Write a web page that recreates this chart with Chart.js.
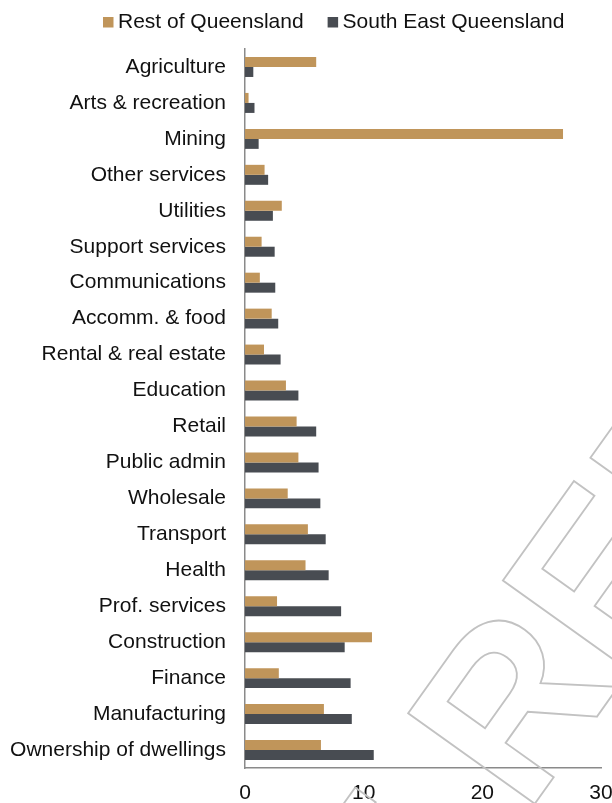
<!DOCTYPE html>
<html>
<head>
<meta charset="utf-8">
<script src="https://cdn.jsdelivr.net/npm/chart.js@4"></script>
<style>
  html, body { margin: 0; padding: 0; background: #fff; }
  #industryChart { display: block; }
</style>
</head>
<body>
<canvas id="industryChart" width="612" height="803"></canvas>
<script>
const industries = [
    "Agriculture", "Arts & recreation", "Mining", "Other services", "Utilities",
    "Support services", "Communications", "Accomm. & food", "Rental & real estate", "Education",
    "Retail", "Public admin", "Wholesale", "Transport", "Health",
    "Prof. services", "Construction", "Finance", "Manufacturing", "Ownership of dwellings",
];
const restOfQld = [6.0, 0.3, 26.8, 1.65, 3.1, 1.4, 1.25, 2.25, 1.6, 3.45, 4.35, 4.5, 3.6, 5.3, 5.1, 2.7, 10.7, 2.85, 6.65, 6.4];
const southEastQld = [0.7, 0.8, 1.15, 1.95, 2.35, 2.5, 2.55, 2.8, 3.0, 4.5, 6.0, 6.2, 6.35, 6.8, 7.05, 8.1, 8.4, 8.9, 9.0, 10.85];
const xTicks = [0, 10, 20, 30];

const FONT = "'Liberation Sans', Arial, sans-serif";
const AXIS_GREY = "#8a8a8a";

// legend drawn by hand so the swatch sits close to its text
const legendPlugin = {
    id: "topLegend",
    afterDraw(chart) {
        const ctx = chart.ctx;
        ctx.save();
        ctx.font = "21px " + FONT;
        ctx.textBaseline = "alphabetic";
        let x = 103;
        chart.data.datasets.forEach((ds) => {
            ctx.fillStyle = ds.backgroundColor;
            ctx.fillRect(x, 17, 10.5, 10.5);
            ctx.fillStyle = "#111";
            ctx.fillText(ds.label, x + 15, 27.7);
            x += 15 + ctx.measureText(ds.label).width + 24;
        });
        ctx.restore();
    },
};

// outlined stamp across the lower right
const stampPlugin = {
    id: "stamp",
    afterDraw(chart) {
        const ctx = chart.ctx;
        ctx.save();
        ctx.font = "bold 226px " + FONT;
        ctx.translate(526, 816);
        ctx.rotate(-54.5 * Math.PI / 180);
        const lead = ctx.measureText("SAMPLE ").width;
        ctx.strokeStyle = "#c2c2c2";
        ctx.lineWidth = 1.8;
        ctx.strokeText("SAMPLE REPORT", -lead, 0);
        ctx.restore();
    },
};

const ctx = document.getElementById("industryChart").getContext("2d");
const industryChart = new Chart(ctx, {
    type: "bar",
    data: {
        labels: industries,
        datasets: [
            {
                label: "Rest of Queensland",
                data: restOfQld,
                backgroundColor: "#c0955a",
            },
            {
                label: "South East Queensland",
                data: southEastQld,
                backgroundColor: "#484c52",
            },
        ],
    },
    options: {
        indexAxis: "y",
        responsive: false,
        animation: false,
        devicePixelRatio: 1,
        categoryPercentage: 0.556,
        barPercentage: 1.0,
        layout: {
            padding: { top: 49, right: 0, left: 0, bottom: 0 },
        },
        scales: {
            x: {
                min: 0,
                max: 30,
                afterBuildTicks: (scale) => {
                    scale.ticks = xTicks.map((v) => ({ value: v }));
                },
                afterFit: (scale) => {
                    scale.height = 35;
                    scale.paddingRight = 11;
                },
                grid: { display: false, drawTicks: false },
                border: { display: true, color: AXIS_GREY, width: 1.5 },
                ticks: {
                    padding: 12.4,
                    color: "#111",
                    font: { family: FONT, size: 21 },
                },
            },
            y: {
                afterFit: (scale) => {
                    scale.width = 245;
                },
                grid: { display: false, drawTicks: false },
                border: { display: true, color: AXIS_GREY, width: 1.5 },
                ticks: {
                    padding: 19,
                    color: "#111",
                    font: { family: FONT, size: 21 },
                },
            },
        },
        plugins: {
            legend: { display: false },
            tooltip: { enabled: false },
        },
    },
    plugins: [legendPlugin, stampPlugin],
});
</script>
</body>
</html>
